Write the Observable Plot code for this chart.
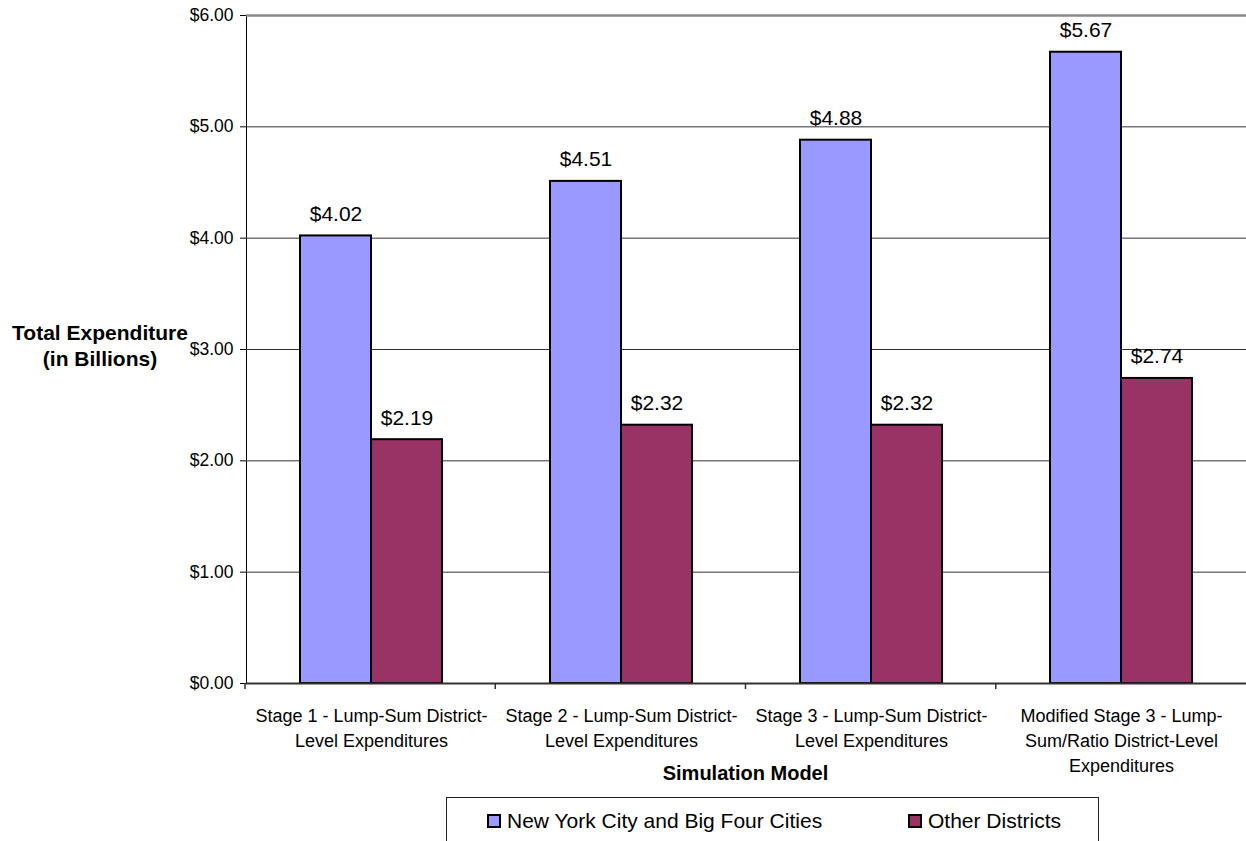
<!DOCTYPE html>
<html>
<head>
<meta charset="utf-8">
<script src="https://cdn.jsdelivr.net/npm/d3@7"></script>
<script src="https://cdn.jsdelivr.net/npm/@observablehq/plot@0.6"></script>
<style>
  html, body { margin: 0; padding: 0; background: #fff; }
  body { position: relative; width: 1246px; height: 841px; overflow: hidden; font-family: "Liberation Sans", Arial, sans-serif; color: #000; }
  #chart svg { display: block; }
  .ytitle { position: absolute; left: 0; top: 320px; width: 200px; text-align: center; font-weight: bold; font-size: 21px; line-height: 26px; }
  .xtitle { position: absolute; left: 245px; width: 1001px; top: 760px; text-align: center; font-weight: bold; font-size: 20px; line-height: 26px; }
  .legend { position: absolute; left: 446px; top: 797px; width: 653px; height: 70px; border: 1px solid #222; box-sizing: border-box; font-size: 21px; }
  .legend .item { position: absolute; top: 10px; display: flex; align-items: center; height: 26px; white-space: nowrap; }
  .legend .sw { width: 10px; height: 10px; border: 2px solid #000; margin-right: 6px; }
</style>
</head>
<body>
<div id="chart"></div>
<div class="ytitle">Total Expenditure<br>(in Billions)</div>
<div class="xtitle">Simulation Model</div>
<div class="legend" id="legend"></div>
<script>
const categories = [
  "Stage 1 - Lump-Sum District-Level Expenditures",
  "Stage 2 - Lump-Sum District-Level Expenditures",
  "Stage 3 - Lump-Sum District-Level Expenditures",
  "Modified Stage 3 - Lump-Sum/Ratio District-Level Expenditures"
];
const categoryLabels = [
  "Stage 1 - Lump-Sum District-\nLevel Expenditures",
  "Stage 2 - Lump-Sum District-\nLevel Expenditures",
  "Stage 3 - Lump-Sum District-\nLevel Expenditures",
  "Modified Stage 3 - Lump-\nSum/Ratio District-Level\nExpenditures"
];
const seriesNames = ["New York City and Big Four Cities", "Other Districts"];
const nycValues = [4.02, 4.51, 4.88, 5.67];
const otherValues = [2.19, 2.32, 2.32, 2.74];
const seriesColors = ["#9999FF", "#993366"];
const yTicks = [0, 1, 2, 3, 4, 5, 6];

const data = [];
categories.forEach((c, i) => {
  data.push({cat: c, series: seriesNames[0], value: nycValues[i]});
  data.push({cat: c, series: seriesNames[1], value: otherValues[i]});
});
const fmt = v => "$" + v.toFixed(2);

const chart = Plot.plot({
  width: 1246,
  height: 797,
  marginLeft: 245,
  marginRight: 0,
  marginTop: 15,
  marginBottom: 114,
  style: {fontFamily: "'Liberation Sans', Arial, sans-serif", fontSize: "17.5px", color: "#000", background: "#fff"},
  fx: {domain: categories, padding: 0, axis: null, label: null},
  x: {domain: seriesNames, paddingInner: 0, paddingOuter: 0.74, axis: null, label: null},
  y: {domain: [0, 6], ticks: yTicks, tickFormat: fmt, tickSize: 6, tickPadding: 7, label: null, line: true},
  color: {domain: seriesNames, range: seriesColors},
  marks: [
    Plot.ruleY(yTicks.filter(t => t > 0 && t < 6), {stroke: "#333", strokeWidth: 1}),
    Plot.ruleY([6], {stroke: "#888", strokeWidth: 2.5}),
    Plot.barY(data, {fx: "cat", x: "series", y: "value", fill: "series", stroke: "#000", strokeWidth: 2}),
    Plot.ruleY([0], {stroke: "#333", strokeWidth: 2}),
    Plot.text(data, {fx: "cat", x: "series", y: "value", text: d => fmt(d.value), lineAnchor: "bottom", dy: -15, fontSize: 21}),
    Plot.text(categories, {fx: d => d, text: (d, i) => categoryLabels[i], frameAnchor: "bottom", lineAnchor: "top", dy: 21, lineHeight: 1.39, fontSize: 18})
  ]
});
document.getElementById("chart").appendChild(chart);

// boundary tick marks on the category axis, from the fx scale
const fxs = chart.scale("fx");
const band = d3.scaleBand().domain(fxs.domain).range(fxs.range).padding(0);
const svg = d3.select(chart);
const y0 = chart.scale("y").range[0];
const edges = fxs.domain.map(d => band(d));
svg.append("g").attr("stroke", "#333").attr("stroke-width", 1.5)
  .selectAll("line").data(edges).join("line")
  .attr("x1", d => d).attr("x2", d => d)
  .attr("y1", y0).attr("y2", y0 + 6);

// legend
const legend = document.getElementById("legend");
const legendLefts = [40, 461];
seriesNames.forEach((s, i) => {
  const item = document.createElement("div");
  item.className = "item";
  item.style.left = legendLefts[i] + "px";
  const sw = document.createElement("div");
  sw.className = "sw";
  sw.style.background = seriesColors[i];
  item.appendChild(sw);
  item.appendChild(document.createTextNode(s));
  legend.appendChild(item);
});
</script>
</body>
</html>
